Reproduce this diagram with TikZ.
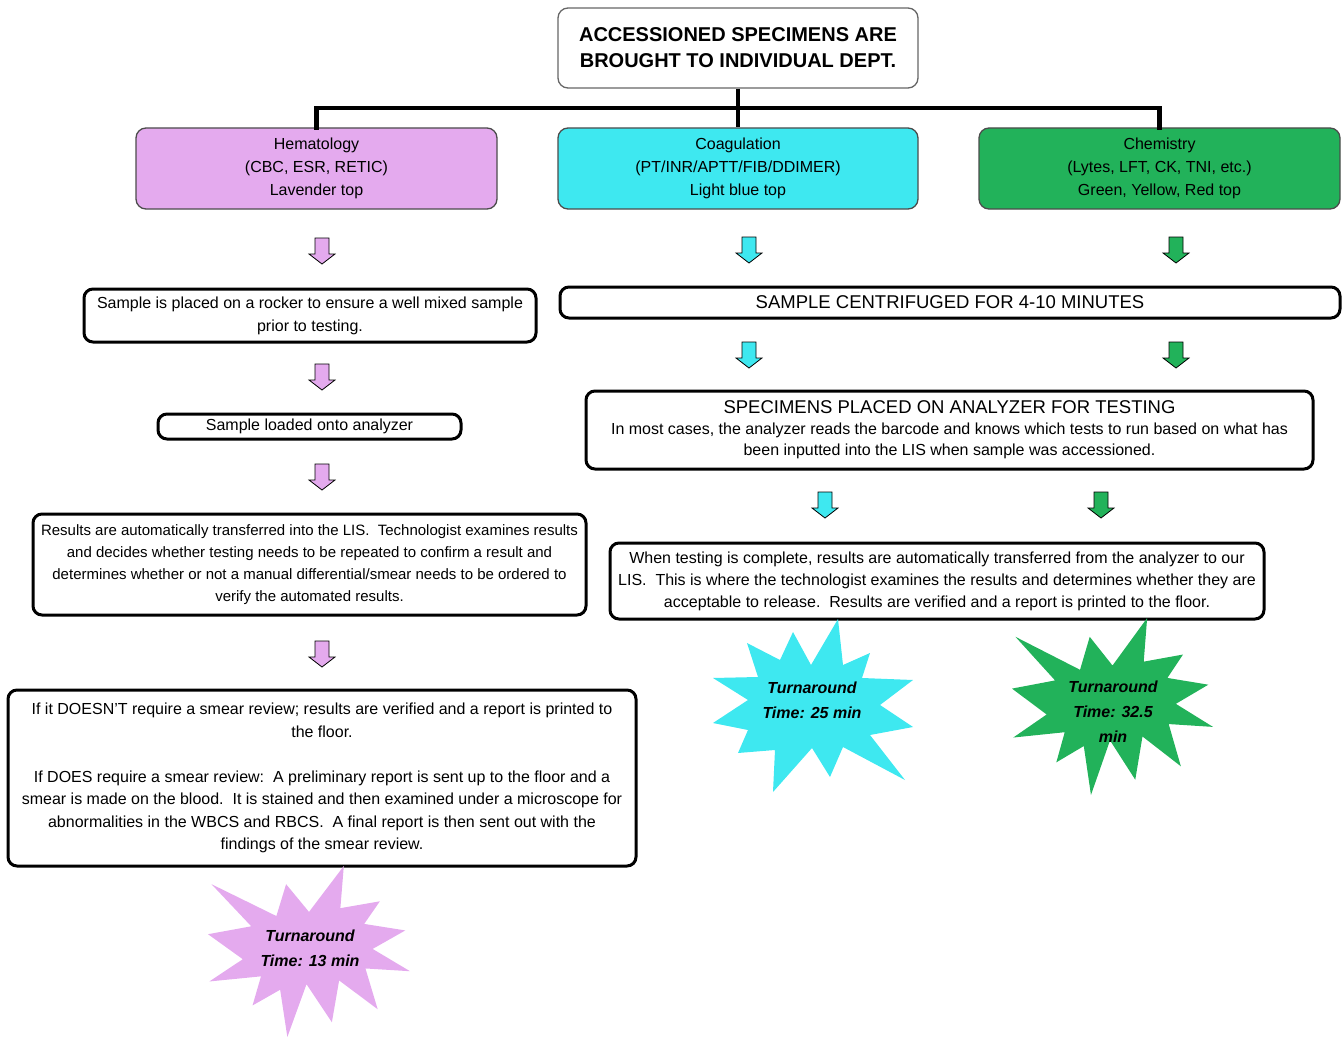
\documentclass[tikz,border=0pt]{standalone}
\usepackage{fontspec}
\setmainfont{Liberation Sans}
\definecolor{lav}{RGB}{228,170,238}
\definecolor{cyn}{RGB}{62,232,240}
\definecolor{grn}{RGB}{34,178,90}
\newcommand\explo[5]{%
\begin{scope}[shift={(#1,#2)}, xscale=#3/216, yscale=#4/216]
\fill[#5] (108,58) -- (145.22,0) -- (141.55,53.25) -- (183.80,44.57) -- (167.02,73.15) -- (210.97,81.37) -- (176.07,104.75) -- (216,132.90) -- (168.37,129.42) -- (181.45,180.95) -- (140.20,144.57) -- (132.47,197.37) -- (105.32,149.35) -- (84.85,216) -- (77.15,156.27) -- (47.62,176.17) -- (56.67,139.37) -- (1.35,145.87) -- (37.22,117.75) -- (0,86.15) -- (46.27,76.17) -- (3.70,22.95) -- (73.12,63.20) -- (83.52,22.95) -- cycle;
\end{scope}}
\tikzset{
  x=1pt, y=-1pt,
  dept/.style={draw=black!70, line width=1.3pt, rounded corners=10pt, align=center, inner sep=0pt,
     font=\fontsize{16}{23}\selectfont},
  proc/.style={draw=black, line width=3pt, rounded corners=9pt, fill=white, align=center, inner sep=0pt},
  conn/.style={line width=4.5pt, black},
  darrow/.pic={\draw[pic actions, line width=0.8pt, line join=miter] (-7,-12) -- (7,-12) -- (7,4) -- (13,4) -- (0,14) -- (-13,4) -- (-7,4) -- cycle;},
  burst/.style={align=center, font=\fontsize{16}{25}\selectfont\bfseries\itshape}
}
\begin{document}
\begin{tikzpicture}
\useasboundingbox (0,0) rectangle (1342,1038);
% top
\node[dept, draw=black!60, minimum width=360pt, minimum height=80pt, font=\fontsize{20}{26}\selectfont\bfseries] (top) at (738,48) {ACCESSIONED SPECIMENS ARE\\BROUGHT TO INDIVIDUAL DEPT.};
% departments
\node[dept, fill=lav, minimum width=361pt, minimum height=81pt] (hem) at (316.5,168.5) {Hematology\\(CBC, ESR, RETIC)\\Lavender top};
\node[dept, fill=cyn, minimum width=360pt, minimum height=81pt] (coag) at (738,168.5) {Coagulation\\(PT/INR/APTT/FIB/DDIMER)\\Light blue top};
\node[dept, fill=grn, minimum width=361pt, minimum height=81pt] (chem) at (1159.5,168.5) {Chemistry\\(Lytes, LFT, CK, TNI, etc.)\\Green, Yellow, Red top};
% connectors
\coordinate (j) at (738,108);
\draw[conn] (top.south) -- (coag.north);
\draw[conn, line cap=rect] (hem.north) -- (hem.north |- j) -- (chem.north |- j) -- (chem.north);
% process boxes
\node[proc, minimum width=452pt, minimum height=53pt, font=\fontsize{16}{23}\selectfont] (rock) at (310,315.5) {Sample is placed on a rocker to ensure a well mixed sample\\prior to testing.};
\node[proc, minimum width=780pt, minimum height=31pt, font=\fontsize{18.5}{23}\selectfont] (cent) at (950,302.5) {SAMPLE CENTRIFUGED FOR 4-10 MINUTES};
\node[proc, minimum width=303pt, minimum height=25pt, font=\fontsize{16}{20}\selectfont] (load) at (309.5,426.5) {Sample loaded onto analyzer};
\node[proc, minimum width=727pt, minimum height=78pt, font=\fontsize{16}{21}\selectfont] (spec) at (949.5,430) {{\fontsize{18.5}{24}\selectfont SPECIMENS PLACED ON ANALYZER FOR TESTING}\\In most cases, the analyzer reads the barcode and knows which tests to run based on what has\\been inputted into the LIS when sample was accessioned.};
\node[proc, minimum width=553pt, minimum height=101pt, font=\fontsize{15}{22}\selectfont] (res) at (309.5,564.5) {Results are automatically transferred into the LIS.\ \ Technologist examines results\\and decides whether testing needs to be repeated to confirm a result and\\determines whether or not a manual differential/smear needs to be ordered to\\verify the automated results.};
\node[proc, minimum width=654pt, minimum height=76pt, font=\fontsize{16}{22}\selectfont] (test) at (937,581) {When testing is complete, results are automatically transferred from the analyzer to our\\LIS.\ \ This is where the technologist examines the results and determines whether they are\\acceptable to release.\ \ Results are verified and a report is printed to the floor.};
\node[proc, minimum width=628pt, minimum height=176pt, font=\fontsize{16}{22.5}\selectfont] (big) at (322,778) {If it DOESN'T require a smear review; results are verified and a report is printed to\\the floor.\\[22.5pt]If DOES require a smear review:\ \ A preliminary report is sent up to the floor and a\\smear is made on the blood.\ \ It is stained and then examined under a microscope for\\abnormalities in the WBCS and RBCS.\ \ A final report is then sent out with the\\findings of the smear review.};
% block arrows
\pic[fill=lav] at (322,250) {darrow};
\pic[fill=lav] at (322,376) {darrow};
\pic[fill=lav] at (322,476) {darrow};
\pic[fill=lav] at (322,653) {darrow};
\pic[fill=cyn] at (749,249) {darrow};
\pic[fill=cyn] at (749,354) {darrow};
\pic[fill=cyn] at (825,504) {darrow};
\pic[fill=grn] at (1176,249) {darrow};
\pic[fill=grn] at (1176,354) {darrow};
\pic[fill=grn] at (1101,504) {darrow};
% starbursts
\fill[cyn] (838,619) -- (843,665) -- (870,653) -- (862,678) -- (913,680) -- (880,705) -- (913,727) -- (870,735) -- (905,780) -- (843,747) -- (830,777) -- (812,748) -- (773,792) -- (775,750) -- (738,753) -- (748,730) -- (713,723) -- (748,700) -- (713,678) -- (758,677) -- (747,643) -- (780,660) -- (793,632) -- (811,665) -- cycle;
\explo{1012}{618}{201}{177}{grn}
\explo{208}{866}{202}{171}{lav}
\node[burst] (b1) at (812,700) {Turnaround\\Time: 25 min};
\node[burst] (b2) at (1113,712) {Turnaround\\Time: 32.5\\min};
\node[burst] (b3) at (310,948) {Turnaround\\Time: 13 min};
\end{tikzpicture}
\end{document}
